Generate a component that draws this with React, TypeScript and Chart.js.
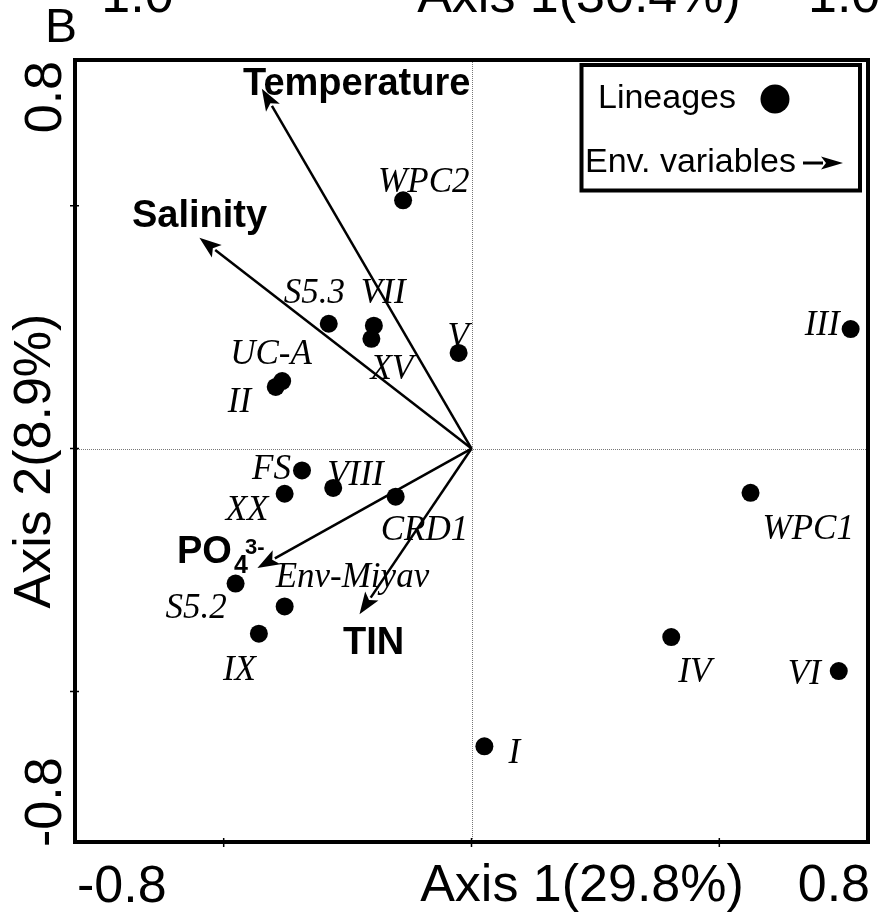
import { useEffect, useRef } from "react";
import { Chart, registerables } from "chart.js";
Chart.register(...registerables);

// ---- data ----
const lineageNames = ["WPC2", "S5.3", "VII", "XV", "V", "UC-A", "II", "FS", "VIII", "XX", "CRD1", "S5.2", "Env-Miyav", "IX", "I", "III", "WPC1", "IV", "VI"];
const axis1Scores = [-0.138, -0.288, -0.197, -0.202, -0.026, -0.382, -0.395, -0.342, -0.279, -0.377, -0.153, -0.476, -0.377, -0.429, 0.026, 0.765, 0.563, 0.403, 0.741];
const axis2Scores = [0.511, 0.257, 0.253, 0.226, 0.197, 0.139, 0.127, -0.045, -0.081, -0.093, -0.099, -0.278, -0.325, -0.381, -0.613, 0.246, -0.091, -0.388, -0.458];

const envNames = ["Temperature", "Salinity", "PO4", "TIN"];
const envAxis1 = [-0.423, -0.549, -0.432, -0.226];
const envAxis2 = [0.741, 0.434, -0.246, -0.341];

const axisTickValues = [-0.5, 0, 0.5];
const xTickLabels = ["-0.8", "0.8"];
const yTickLabels = ["-0.8", "0.8"];
const xAxisTitle = "Axis 1(29.8%)";
const yAxisTitle = "Axis 2(8.9%)";
const panelLetter = "B";
const legendLabels = ["Lineages", "Env. variables"];
const cutTopTexts = ["-1.0", "Axis 1(30.4%)", "1.0"];

// ---- label layout (pixel offsets from each point: text left, baseline) ----
const lineageLabelOffsets: [number, number][] = [
  [-25, -8], [-45, -21], [-13, -23], [-1, 40], [-11, -6], [-52, -17], [-48, 25],
  [-50, 9], [-6, -3], [-59, 26], [-15, 43], [-70, 34], [-9, -19], [-36, 46],
  [24, 17], [-46, 6], [12, 46], [7, 45], [-51, 13],
];
const envLabelPos: [number, number][] = [[243, 95], [132, 227], [177, 563], [343, 654]];

const SANS = "'Liberation Sans', Arial, sans-serif";
const SERIF = "'Liberation Serif', 'Times New Roman', serif";

function arrow(ctx: CanvasRenderingContext2D, x0: number, y0: number, x1: number, y1: number, headLen: number, halfW: number, lw: number) {
  const dx = x1 - x0, dy = y1 - y0;
  const len = Math.hypot(dx, dy);
  const ux = dx / len, uy = dy / len;
  const bx = x1 - ux * headLen, by = y1 - uy * headLen;
  ctx.save();
  ctx.strokeStyle = "#000";
  ctx.fillStyle = "#000";
  ctx.lineWidth = lw;
  ctx.beginPath();
  ctx.moveTo(x0, y0);
  ctx.lineTo(bx + ux * 2, by + uy * 2);
  ctx.stroke();
  ctx.beginPath();
  ctx.moveTo(x1, y1);
  ctx.lineTo(bx - uy * halfW, by + ux * halfW);
  ctx.lineTo(bx + ux * 5, by + uy * 5);
  ctx.lineTo(bx + uy * halfW, by - ux * halfW);
  ctx.closePath();
  ctx.fill();
  ctx.restore();
}

const biplotPlugin = {
  id: "biplot",
  beforeDatasetsDraw(chart: any) {
    const ctx: CanvasRenderingContext2D = chart.ctx;
    const xs = chart.scales.x, ys = chart.scales.y;
    const a = chart.chartArea;
    const x0 = xs.getPixelForValue(0), y0 = ys.getPixelForValue(0);
    ctx.save();
    ctx.strokeStyle = "#777";
    ctx.lineWidth = 1;
    ctx.setLineDash([1, 1]);
    ctx.beginPath();
    ctx.moveTo(Math.round(x0) + 0.5, a.top);
    ctx.lineTo(Math.round(x0) + 0.5, a.bottom);
    ctx.moveTo(a.left, Math.round(y0) + 0.5);
    ctx.lineTo(a.right, Math.round(y0) + 0.5);
    ctx.stroke();
    ctx.restore();
    envNames.forEach((_, i) => {
      arrow(ctx, x0, y0, xs.getPixelForValue(envAxis1[i]), ys.getPixelForValue(envAxis2[i]), 22, 8, 2.5);
    });
  },
  afterDatasetsDraw(chart: any) {
    const ctx: CanvasRenderingContext2D = chart.ctx;
    const xs = chart.scales.x, ys = chart.scales.y;
    const a = chart.chartArea;
    ctx.save();
    ctx.fillStyle = "#000";
    ctx.textBaseline = "alphabetic";
    // lineage labels
    ctx.font = `italic 35px ${SERIF}`;
    ctx.textAlign = "left";
    lineageNames.forEach((n, i) => {
      const px = xs.getPixelForValue(axis1Scores[i]);
      const py = ys.getPixelForValue(axis2Scores[i]);
      ctx.fillText(n, px + lineageLabelOffsets[i][0], py + lineageLabelOffsets[i][1]);
    });
    // env labels
    envNames.forEach((n, i) => {
      const [lx, ly] = envLabelPos[i];
      if (n === "PO4") {
        ctx.font = `bold 38px ${SANS}`;
        ctx.fillText("PO", lx, ly);
        const w = ctx.measureText("PO").width;
        ctx.font = `bold 25px ${SANS}`;
        ctx.fillText("4", lx + w + 2, ly + 10);
        ctx.font = `bold 22px ${SANS}`;
        ctx.fillText("3-", lx + w + 13, ly - 9);
      } else {
        ctx.font = `bold 38px ${SANS}`;
        ctx.fillText(n, lx, ly);
      }
    });
    // frame
    ctx.strokeStyle = "#000";
    ctx.lineWidth = 4;
    ctx.strokeRect(a.left, a.top, a.right - a.left, a.bottom - a.top);
    // ticks
    ctx.lineWidth = 1.5;
    ctx.beginPath();
    axisTickValues.forEach((v) => {
      const px = xs.getPixelForValue(v);
      ctx.moveTo(px, a.bottom - 4);
      ctx.lineTo(px, a.bottom + 5);
      const py = ys.getPixelForValue(v);
      ctx.moveTo(a.left - 5, py);
      ctx.lineTo(a.left + 4, py);
    });
    ctx.stroke();
    // x axis texts
    ctx.font = `52px ${SANS}`;
    ctx.textAlign = "left";
    ctx.fillText(xTickLabels[0], a.left + 2, 902);
    ctx.textAlign = "right";
    ctx.fillText(xTickLabels[1], a.right + 2, 901);
    ctx.textAlign = "center";
    ctx.fillText(xAxisTitle, 582, 901);
    // y axis texts (rotated)
    ctx.save();
    ctx.translate(61, 0);
    ctx.rotate(-Math.PI / 2);
    ctx.font = `52px ${SANS}`;
    ctx.textAlign = "right";
    ctx.fillText(yTickLabels[1], -a.top - 1, 0);
    ctx.textAlign = "left";
    ctx.fillText(yTickLabels[0], -a.bottom - 5, 0);
    ctx.restore();
    ctx.save();
    ctx.translate(50, 461);
    ctx.rotate(-Math.PI / 2);
    ctx.font = `52px ${SANS}`;
    ctx.textAlign = "center";
    ctx.fillText(yAxisTitle, 0, 0);
    ctx.restore();
    // panel letter
    ctx.font = `48px ${SANS}`;
    ctx.textAlign = "left";
    ctx.fillText(panelLetter, 45, 42);
    // remnants of the panel above (cut off at the top edge)
    ctx.font = `52px ${SANS}`;
    ctx.textAlign = "left";
    ctx.fillText(cutTopTexts[0], 84, 12);
    ctx.textAlign = "center";
    ctx.fillText(cutTopTexts[1], 579, 12);
    ctx.textAlign = "left";
    ctx.fillText(cutTopTexts[2], 808, 12);
    // legend
    ctx.lineWidth = 4;
    ctx.strokeRect(581.5, 65, 278.5, 125.5);
    ctx.font = `34px ${SANS}`;
    ctx.textAlign = "left";
    ctx.fillText(legendLabels[0], 598, 108);
    ctx.beginPath();
    ctx.arc(775, 99, 14.5, 0, Math.PI * 2);
    ctx.fill();
    ctx.fillText(legendLabels[1], 585, 172);
    ctx.restore();
    arrow(ctx, 803, 163, 843, 163, 22, 6.5, 3);
  },
};

export default function App() {
  const ref = useRef<HTMLCanvasElement>(null);
  useEffect(() => {
    const canvas = ref.current!;
    const chart = new Chart(canvas, {
      type: "scatter",
      data: {
        datasets: [
          {
            label: legendLabels[0],
            data: lineageNames.map((_, i) => ({ x: axis1Scores[i], y: axis2Scores[i] })),
            pointRadius: 9,
            pointHoverRadius: 9,
            backgroundColor: "#000",
            borderColor: "#000",
            borderWidth: 0,
          },
        ],
      },
      options: {
        animation: false,
        responsive: false,
        devicePixelRatio: 1,
        events: [],
        layout: { padding: { left: 75, right: 11, top: 60, bottom: 74 } },
        scales: {
          x: { type: "linear", min: -0.8, max: 0.8, display: false },
          y: { type: "linear", min: -0.81, max: 0.8, display: false },
        },
        plugins: { legend: { display: false }, tooltip: { enabled: false } },
      },
      plugins: [biplotPlugin],
    });
    return () => chart.destroy();
  }, []);
  return (
    <div style={{ position: "absolute", left: 0, top: 0, width: 879, height: 916, background: "#fff" }}>
      <canvas ref={ref} width={879} height={916} style={{ display: "block" }} />
    </div>
  );
}
